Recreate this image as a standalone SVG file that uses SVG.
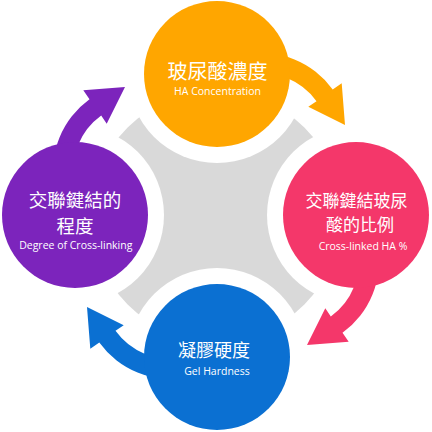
<svg xmlns="http://www.w3.org/2000/svg" xmlns:xlink="http://www.w3.org/1999/xlink" width="432" height="432" viewBox="0 0 432 432">
  <style>
    .zh { font-family: "Noto Sans CJK TC", "Noto Sans CJK SC", sans-serif; fill: #ffffff; text-anchor: middle; }
    .en { font-family: "Open Sans", "Liberation Sans", sans-serif; fill: #ffffff; text-anchor: middle; font-size: 10.5px; }
  </style>
  <defs>
    <mask id="hubMask">
      <rect x="0" y="0" width="432" height="432" fill="#fff"/>
      <circle cx="217" cy="74" r="89" fill="#000"/>
      <circle cx="356" cy="215" r="89" fill="#000"/>
      <circle cx="217" cy="357" r="89" fill="#000"/>
      <circle cx="75" cy="215" r="89" fill="#000"/>
    </mask>
    <path id="arrow" d="M 246.1 54.4 A 88 88 0 0 1 332.7 89.5 L 341.7 83.3 L 345 125 L 308.3 106.7 L 316.5 101.2 A 68 68 0 0 0 249.6 74.1 Z"/>
  </defs>
  <rect width="432" height="432" fill="#ffffff"/>
  <g id="hub">
    <circle cx="216" cy="216" r="125" fill="#d9d9d9" mask="url(#hubMask)"/>
  </g>
  <g id="connectors">
    <use xlink:href="#arrow" fill="#ffa600"/>
    <use xlink:href="#arrow" fill="#f4376a" transform="rotate(90 216 216)"/>
    <use xlink:href="#arrow" fill="#0b70d2" transform="rotate(180 216 216)"/>
    <use xlink:href="#arrow" fill="#7c24bc" transform="rotate(270 216 216)"/>
  </g>
  <g id="node-ha-concentration">
    <circle cx="217" cy="74" r="73" fill="#ffa600"/>
    <text class="zh" x="217.5" y="79" font-size="20">玻尿酸濃度</text>
    <text class="en" x="217.5" y="95">HA Concentration</text>
  </g>
  <g id="node-crosslinked-ha">
    <circle cx="356" cy="215" r="73" fill="#f4376a"/>
    <text class="zh" x="356.5" y="207" font-size="17">交聯鍵結玻尿</text>
    <text class="zh" x="360" y="231" font-size="17">酸的比例</text>
    <text class="en" x="363" y="249.5">Cross-linked HA %</text>
  </g>
  <g id="node-gel-hardness">
    <circle cx="217" cy="357" r="73" fill="#0b70d2"/>
    <text class="zh" x="214" y="357" font-size="18">凝膠硬度</text>
    <text class="en" x="217" y="375">Gel Hardness</text>
  </g>
  <g id="node-degree-crosslinking">
    <circle cx="75" cy="215" r="73" fill="#7c24bc"/>
    <text class="zh" x="75" y="206.5" font-size="18.5">交聯鍵結的</text>
    <text class="zh" x="75" y="233" font-size="18.5">程度</text>
    <text class="en" x="75.8" y="249">Degree of Cross-linking</text>
  </g>
</svg>
